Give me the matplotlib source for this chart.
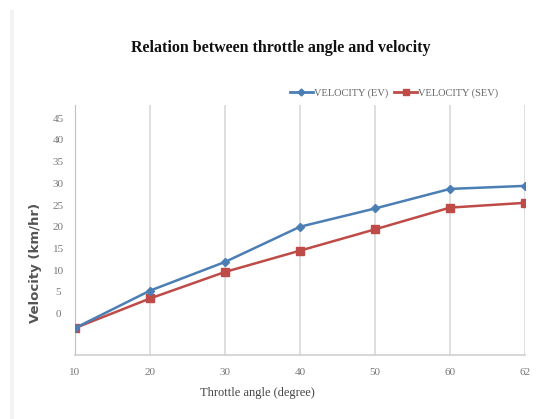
import matplotlib
matplotlib.use("Agg")
import matplotlib.pyplot as plt
from matplotlib.lines import Line2D
from matplotlib.patches import Rectangle

angles = ["10", "20", "30", "40", "50", "60", "62"]
velocity_ev = [-3.3, 5.3, 11.9, 20.0, 24.2, 28.7, 29.4]
velocity_sev = [-3.3, 3.5, 9.6, 14.5, 19.4, 24.4, 25.5]
yticks = [0, 5, 10, 15, 20, 25, 30, 35, 40, 45]

W, H = 536, 419
fig = plt.figure(figsize=(W / 100, H / 100), dpi=100)
fig.patch.set_facecolor("white")

# faint left border strip
fig.patches.append(Rectangle((10 / W, 0), 4 / W, 1 - 10 / H, transform=fig.transFigure,
                             facecolor="#f3f3f3", edgecolor="none", zorder=0))

ax = fig.add_axes([75 / W, 1 - 355 / H, 450 / W, 250 / H])
x = list(range(len(angles)))

ev_col = "#4a7eb4"
sev_col = "#be4b48"
ax.plot(x, velocity_ev, color=ev_col, lw=1.8, marker="D", ms=4.5, zorder=3)
ax.plot(x, velocity_sev, color=sev_col, lw=1.8, marker="s", ms=6, zorder=2)

ax.set_xlim(0, len(angles) - 1)
ax.set_ylim(-9.5, 48)
ax.set_xticks(x)
ax.set_xticklabels(angles)
ax.set_yticks(yticks)
ax.set_yticklabels([str(v) for v in yticks])
ax.tick_params(length=0, labelsize=8, colors="#777777")
ax.tick_params(axis="y", pad=12)
ax.tick_params(axis="x", pad=9)
for lab in ax.get_xticklabels() + ax.get_yticklabels():
    lab.set_family("Liberation Serif")
for lab in ax.get_yticklabels():
    lab.set_horizontalalignment("center")

ax.grid(axis="x", color="#d9d9d9", lw=1.2)
ax.set_axisbelow(True)
for s in ["top", "right"]:
    ax.spines[s].set_visible(False)
ax.spines["left"].set_color("#bfbfbf")
ax.spines["bottom"].set_color("#d0d0d0")
ax.spines["bottom"].set_linewidth(1.2)

fig.text(281 / W, 1 - 48 / H, "Relation between throttle angle and velocity",
         ha="center", va="center", fontsize=11.5, fontweight="bold",
         family="Liberation Serif", color="#111111")
fig.text(35 / W, 1 - 263 / H, "Velocity (km/hr)", rotation=90, ha="center", va="center",
         fontsize=9.5, fontweight="bold", family="DejaVu Sans", color="#555555")
fig.text(257 / W, 1 - 393 / H, "Throttle angle (degree)", ha="center", va="center",
         fontsize=9, family="Liberation Serif", color="#444444")

handles = [Line2D([0], [0], color=ev_col, lw=2, marker="D", ms=3.5),
           Line2D([0], [0], color=sev_col, lw=2, marker="s", ms=5)]
leg = fig.legend(handles, ["VELOCITY (EV)", "VELOCITY (SEV)"], loc="center",
                 bbox_to_anchor=(394 / W, 1 - 93 / H), ncol=2, frameon=False,
                 handlelength=2.2, handletextpad=0.1, columnspacing=0.6,
                 prop={"family": "Liberation Serif", "size": 7.5})
for t in leg.get_texts():
    t.set_color("#666666")

fig.savefig("out.png", dpi=100)
